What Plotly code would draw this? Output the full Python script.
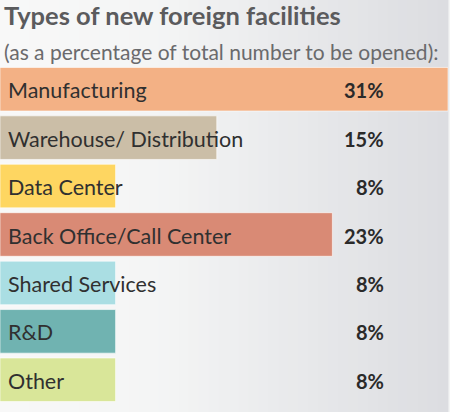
import plotly.graph_objects as go

categories = ["Manufacturing", "Warehouse/ Distribution", "Data Center",
              "Back Office/Call Center", "Shared Services", "R&D", "Other"]
values = [31, 15, 8, 23, 8, 8, 8]
value_labels = ["31%", "15%", "8%", "23%", "8%", "8%", "8%"]
colors = ["#f3b185", "#cbbea7", "#fed661", "#d98a75", "#aadee3", "#70b3b1", "#d9e699"]

W, H = 450, 412
fig = go.Figure()

fig.add_trace(go.Bar(
    x=values, y=categories, orientation="h",
    marker=dict(color=colors, line=dict(color="rgba(255,255,255,0.6)", width=1)),
    hoverinfo="skip", showlegend=False,
))

# background gradient (left light -> right grey)
shapes = []
n = 45
def lerp(a, b, t):
    return int(round(a + (b - a) * t))
for i in range(n):
    t = i / (n - 1)
    if t < 0.35:
        tt = t / 0.35
        c = (lerp(248, 244, tt), lerp(248, 245, tt), lerp(248, 245, tt))
    else:
        tt = (t - 0.35) / 0.65
        c = (lerp(244, 220, tt), lerp(245, 221, tt), lerp(245, 225, tt))
    shapes.append(dict(type="rect", xref="paper", yref="paper",
                       x0=i / n - 0.001, x1=(i + 1) / n + 0.001, y0=-0.05, y1=1.25,
                       fillcolor="rgb(%d,%d,%d)" % c, line=dict(width=0), layer="below"))

annotations = []
for cat in categories:
    annotations.append(dict(x=0, y=cat, xref="x", yref="y", text=cat, showarrow=False,
                            xanchor="left", yanchor="middle", xshift=6, yshift=-1,
                            font=dict(family="Lato", size=21.5, color="#303030")))
for cat, lab in zip(categories, value_labels):
    annotations.append(dict(x=386 / 448, y=cat, xref="paper", yref="y", text="<b>%s</b>" % lab,
                            showarrow=False, xanchor="right", yanchor="middle", yshift=-1,
                            font=dict(family="Lato", size=20, color="#2a2a2a")))

annotations.append(dict(x=0.004, y=1.147, xref="paper", yref="paper",
                        text="<b>Types of new foreign facilities</b>", showarrow=False,
                        xanchor="left", yanchor="middle",
                        font=dict(family="Lato", size=25.5, color="#5b5b5d")))
annotations.append(dict(x=0.004, y=1.04, xref="paper", yref="paper",
                        text="(as a percentage of total number to be opened):", showarrow=False,
                        xanchor="left", yanchor="middle",
                        font=dict(family="Lato", size=21, color="#6a6a6c")))

fig.update_layout(
    width=W, height=H,
    margin=dict(l=0, r=2, t=65, b=8),
    paper_bgcolor="#f4f5f5", plot_bgcolor="rgba(0,0,0,0)",
    bargap=0.1,
    xaxis=dict(range=[0, 31], visible=False, fixedrange=True),
    yaxis=dict(autorange="reversed", visible=False, fixedrange=True),
    shapes=shapes, annotations=annotations,
)

fig.write_html("out.html", config={"displayModeBar": False},
               post_script="document.body.style.margin='0';")
